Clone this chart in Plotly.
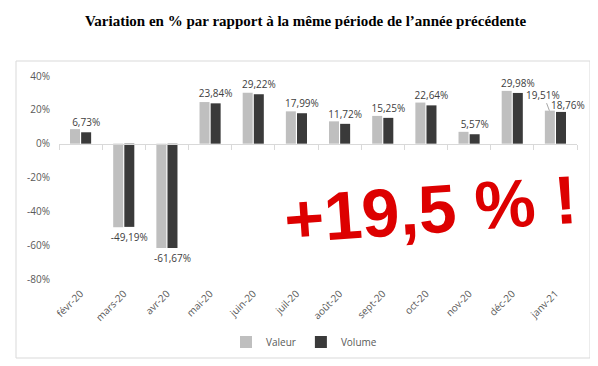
import plotly.graph_objects as go

# ---- data ----
months = ["févr-20", "mars-20", "avr-20", "mai-20", "juin-20", "juil-20",
          "août-20", "sept-20", "oct-20", "nov-20", "déc-20", "janv-21"]
valeur = [8.6, -49.4, -61.67, 24.6, 30.1, 19.1, 13.2, 16.4, 24.3, 7.0, 31.2, 19.51]
volume = [6.73, -49.19, -61.67, 23.84, 29.22, 17.99, 11.72, 15.25, 22.64, 5.57, 29.98, 18.76]
y_ticks = [-80, -60, -40, -20, 0, 20, 40]
y_tick_labels = ["-80%", "-60%", "-40%", "-20%", "0%", "20%", "40%"]
title_text = "Variation en % par rapport à la même période de l’année précédente"
big_text = "+19,5 % !"

W, H = 598, 366
ML, MR, MT, MB = 51, 29, 68, 95
PW, PH = W - ML - MR, H - MT - MB


def px_x(px):
    return (px - ML) / PW


def px_y(py):
    return (H - MB - py) / PH


def fmt(v):
    return f"{v:.2f}".replace(".", ",") + "%"


ymin, ymax = y_ticks[0], y_ticks[-1]
label_color = "#404040"
axis_text = "#595959"
font_fam = "Open Sans, Liberation Sans, sans-serif"

fig = go.Figure()
fig.add_trace(go.Bar(
    name="Valeur", x=months, y=valeur,
    marker=dict(color="#BFBFBF", line=dict(width=0)),
    hoverinfo="skip",
))
vol_text = [fmt(v) for v in volume[:-1]] + [""]
fig.add_trace(go.Bar(
    name="Volume", x=months, y=volume,
    marker=dict(color="#3A3A3A", line=dict(width=0)),
    text=vol_text, textposition="outside", constraintext="none",
    textfont=dict(size=10, color=label_color, family=font_fam),
    cliponaxis=False, hoverinfo="skip",
))
# invisible helper trace to register the zero-line axis
fig.add_trace(go.Scatter(x=[], y=[], xaxis="x2", showlegend=False, hoverinfo="skip"))

annotations = [
    dict(x=months[-1], y=valeur[-1], xref="x", yref="y", text=fmt(valeur[-1]),
         showarrow=True, arrowhead=0, arrowwidth=1, arrowcolor="#A6A6A6",
         ax=-6, ay=-16, xshift=-6, standoff=0,
         font=dict(size=10, color=label_color, family=font_fam)),
    dict(x=months[-1], y=volume[-1], xref="x", yref="y", text=fmt(volume[-1]),
         showarrow=False, xshift=13, yshift=7, yanchor="middle",
         font=dict(size=10, color=label_color, family=font_fam)),
    dict(x=px_x(422), y=px_y(201), xref="paper", yref="paper", text=big_text,
         showarrow=False, textangle=-4, xanchor="center", yanchor="middle",
         font=dict(size=68, color="#DD0000",
                   family="Liberation Sans, Arial, sans-serif", weight="bold")),
]

fig.update_layout(
    width=W, height=H,
    margin=dict(l=ML, r=MR, t=MT, b=MB, autoexpand=False),
    paper_bgcolor="white", plot_bgcolor="white",
    barmode="group", bargap=0.485, bargroupgap=0.1,
    font=dict(family=font_fam, size=10, color=axis_text),
    title=dict(text="<b>" + title_text + "</b>", x=297.5 / W, xanchor="center",
               y=1 - 13 / H, yanchor="middle", xref="container", yref="container",
               font=dict(family="Liberation Serif, Times New Roman, serif", size=15, color="black")),
    xaxis=dict(type="category", range=[-0.5, len(months) - 0.5], showline=False,
               showgrid=False, zeroline=False, ticks="", tickangle=-45,
               ticklabelstandoff=6, automargin=False,
               tickfont=dict(size=10, color=axis_text)),
    xaxis2=dict(overlaying="x", anchor="free", position=(0 - ymin) / (ymax - ymin),
                range=[-0.5, len(months) - 0.5], tick0=-0.5, dtick=1,
                ticks="outside", ticklen=5, tickcolor="#D9D9D9", tickwidth=1,
                showline=True, linecolor="#D9D9D9", linewidth=1, automargin=False,
                showticklabels=False, showgrid=False, zeroline=False),
    yaxis=dict(range=[ymin, ymax], tickvals=y_ticks, ticktext=y_tick_labels,
               showgrid=False, showline=False, zeroline=False, ticks="",
               ticklabelstandoff=8, automargin=False,
               tickfont=dict(size=10, color=axis_text)),
    legend=dict(orientation="h", x=px_x(296), xanchor="center", y=px_y(334),
                yanchor="middle", font=dict(size=10, color=axis_text),
                itemwidth=30, traceorder="normal"),
    annotations=annotations,
    shapes=[dict(type="rect", xref="paper", yref="paper",
                 x0=px_x(8), x1=px_x(582), y0=px_y(350), y1=px_y(53),
                 line=dict(color="#D9D9D9", width=1), layer="below")],
    showlegend=True,
)

fig.write_html("out.html")
